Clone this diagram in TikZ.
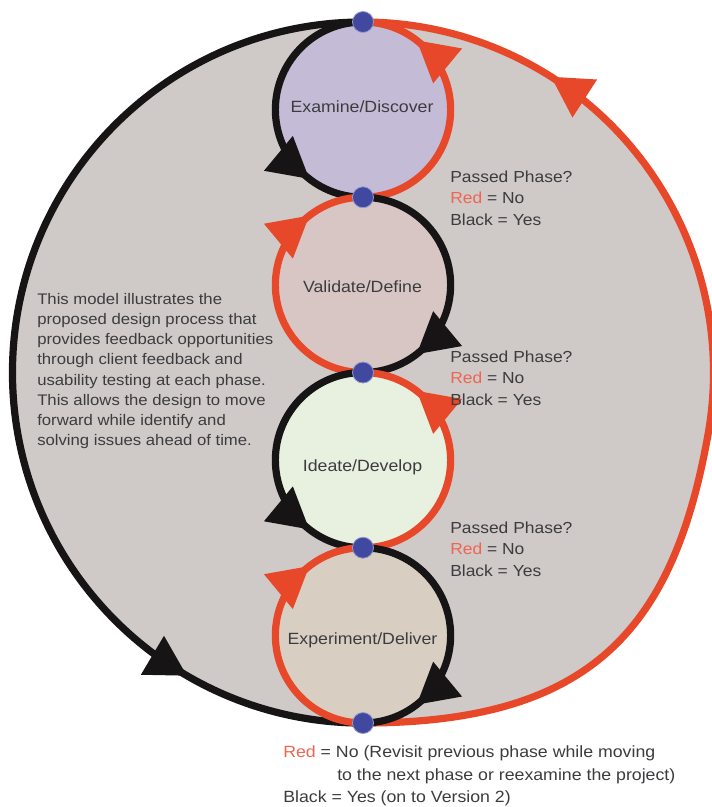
\documentclass[tikz,border=0pt]{standalone}
\usepackage{fontspec}
\setmainfont{Liberation Sans}[FakeStretch=1.09]
\usetikzlibrary{decorations.markings}
\pgfdeclarelayer{bg}
\pgfdeclarelayer{lines}
\pgfsetlayers{bg,lines,main}
\definecolor{bggray}{RGB}{207,201,199}
\definecolor{redline}{RGB}{232,72,42}
\definecolor{redtext}{RGB}{238,102,82}
\definecolor{txt}{RGB}{60,60,64}
\definecolor{dotblue}{RGB}{64,72,160}
\definecolor{cA}{RGB}{196,187,214}
\definecolor{cB}{RGB}{216,198,196}
\definecolor{cC}{RGB}{232,240,223}
\definecolor{cD}{RGB}{216,207,194}
\definecolor{lineblack}{RGB}{22,20,20}
\tikzset{
  blk/.style={color=lineblack, line width=5.4pt},
  rd/.style={color=redline, line width=5.4pt},
  tipat/.style={decoration={markings, mark=at position #1 with {\fill (2pt,0pt)--(-28pt,17pt)--(-28pt,-17pt)--cycle;}}, postaction={decorate}},
  dot/.style={circle, fill=dotblue, draw=dotblue!55!white, line width=0.6pt, inner sep=0pt, minimum size=15.75pt},
  lbl/.style={text=txt, inner sep=0pt, font=\fontsize{12.2pt}{14pt}\selectfont},
  note/.style={text=txt, inner sep=0pt, align=left, font=\fontsize{12pt}{16.1pt}\selectfont},
}
\newcommand{\rdw}{\textcolor{redtext}{Red}}
\begin{document}
\begin{tikzpicture}[x=0.75pt,y=-0.75pt]
\useasboundingbox (0,0) rectangle (711,807);

% junction dots
\node[dot] (d0) at (363,22) {};
\node[dot] (d1) at (363,197.25) {};
\node[dot] (d2) at (363,372.5) {};
\node[dot] (d3) at (363,547.75) {};
\node[dot] (d4) at (363,723) {};

\begin{pgfonlayer}{bg}
  \fill[bggray] (363,22) arc[start angle=90,end angle=270,radius=262.9pt]
     .. controls (590,723) and (673.4,630.4) .. (708.2,433.4)
     arc[start angle=-10,end angle=90,radius=262.9pt] -- cycle;
  \fill[cA] (363,109.6) circle[radius=65.72pt];
  \fill[cB] (363,284.9) circle[radius=65.72pt];
  \fill[cC] (363,460.1) circle[radius=65.72pt];
  \fill[cD] (363,635.4) circle[radius=65.72pt];
\end{pgfonlayer}

\begin{pgfonlayer}{lines}
  % outer loop
  \draw[blk, tipat=0.83] (d0.center) arc[start angle=90,end angle=270,radius=262.9pt];
  \draw[rd, tipat=-151pt] (d4.center) .. controls (590,723) and (673.4,630.4) .. (708.2,433.4)
     arc[start angle=-10,end angle=90,radius=262.9pt];
  % phase circles
  \draw[blk, tipat=0.78] (d0.center) arc[start angle=90,end angle=270,radius=65.72pt];
  \draw[rd,  tipat=0.78] (d1.center) arc[start angle=-90,end angle=90,radius=65.72pt];
  \draw[blk, tipat=0.78] (d1.center) arc[start angle=90,end angle=-90,radius=65.72pt];
  \draw[rd,  tipat=0.78] (d2.center) arc[start angle=270,end angle=90,radius=65.72pt];
  \draw[blk, tipat=0.78] (d2.center) arc[start angle=90,end angle=270,radius=65.72pt];
  \draw[rd,  tipat=0.78] (d3.center) arc[start angle=-90,end angle=90,radius=65.72pt];
  \draw[blk, tipat=0.78] (d3.center) arc[start angle=90,end angle=-90,radius=65.72pt];
  \draw[rd,  tipat=0.78] (d4.center) arc[start angle=270,end angle=90,radius=65.72pt];
\end{pgfonlayer}

% phase labels
\node[lbl] (p1) at (362,107) {Examine/Discover};
\node[lbl] (p2) at (362.5,287) {Validate/Define};
\node[lbl] (p3) at (362.5,467) {Ideate/Develop};
\node[lbl] (p4) at (362.5,640) {Experiment/Deliver};

% passed phase notes
\node[note, anchor=west] (n1) at (450,198) {Passed Phase?\\ \rdw{} = No\\ Black = Yes};
\node[note, anchor=west] (n2) at (450,378) {Passed Phase?\\ \rdw{} = No\\ Black = Yes};
\node[note, anchor=west] (n3) at (450,549) {Passed Phase?\\ \rdw{} = No\\ Black = Yes};

% description
\node[note, anchor=west, font=\fontsize{11.5pt}{15.2pt}\selectfont] (para) at (37,371)
  {This model illustrates the\\ proposed design process that\\ provides feedback opportunities\\
   through client feedback and\\ usability testing at each phase.\\ This allows the design to move\\
   forward while identify and\\ solving issues ahead of time.};

% legend
\node[note, anchor=west, font=\fontsize{12.2pt}{16.9pt}\selectfont] (legend) at (283,776)
  {\rdw{} = No (Revisit previous phase while moving\\
   \hspace*{40.5pt}to the next phase or reexamine the project)\\
   Black = Yes (on to Version 2)};
\end{tikzpicture}
\end{document}
